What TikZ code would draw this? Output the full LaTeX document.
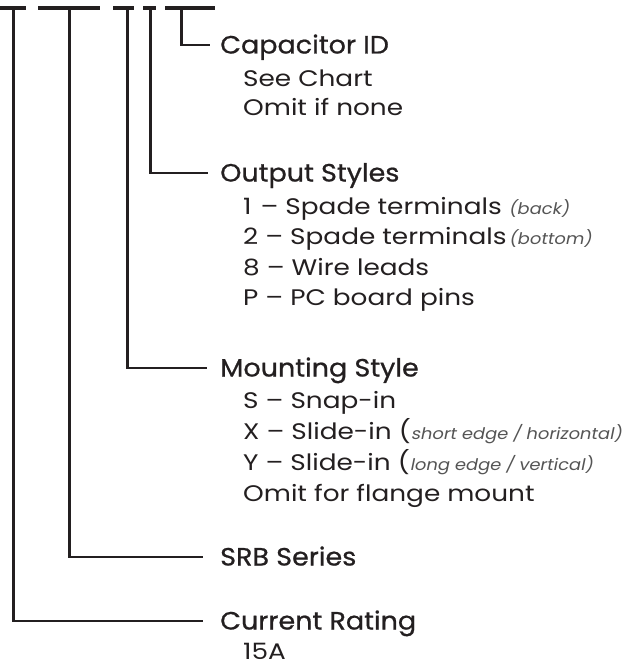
\documentclass[tikz,border=0pt]{standalone}
\usepackage{fontspec}
\setmainfont{Poppins}[FakeStretch=1.17]
\newfontfamily\headfont{Poppins}[FakeBold=0.8,FakeStretch=1.08]
\newfontfamily\itfont{Poppins}[FakeSlant=0.2,FakeStretch=1.12]
\definecolor{ink}{HTML}{231F20}
\definecolor{gr}{HTML}{555555}
\newcommand\smallit[1]{{\itfont\fontsize{16}{18}\selectfont\color{gr}#1}}
\tikzset{
  bar/.style={draw=ink, line width=4pt},
  conn/.style={draw=ink, line width=2.8pt},
  heading/.style={anchor=west, inner sep=0pt, text height=17pt, text depth=0pt,
    font=\headfont\fontsize{25}{29}\selectfont, text=ink},
  item/.style={anchor=base west, inner sep=0pt, font=\fontsize{22.5}{26}\selectfont, text=ink}
}
\begin{document}
\begin{tikzpicture}[x=1pt,y=-1pt]
\useasboundingbox (0,0) rectangle (630,666);
% top bars
\draw[bar] (0,8) -- (26,8);
\draw[bar] (38,8) -- (100,8);
\draw[bar] (113,8) -- (134,8);
\draw[bar] (143,8) -- (156,8);
\draw[bar] (165,8) -- (215,8);
\coordinate (v1) at (13.2,8);
\coordinate (v2) at (69.2,8);
\coordinate (v3) at (127.3,8);
\coordinate (v4) at (150.8,8);
\coordinate (v5) at (181.5,8);
% headings
\node[heading] (cap) at (220,45) {Capacitor ID};
\node[heading] (outp) at (220,173) {Output Styles};
\node[heading] (mount) at (220,368) {Mounting Style};
\node[heading] (srb) at (220,557) {SRB Series};
\node[heading] (cur) at (220,621) {Current Rating};
% items
\node[item] (c1) at (243,87) {See Chart};
\node[item] (c2) at (243,116) {Omit if none};
\node[item] (o1) at (243,214) {1\hspace{0.4em}– Spade terminals\hspace{0.3em}\smallit{(back)}};
\node[item] (o2) at (243,244) {2 – Spade terminals\hspace{0.1em}\smallit{(bottom)}};
\node[item] (o3) at (243,275) {8 – Wire leads};
\node[item] (o4) at (243,305) {P – PC board pins};
\node[item] (m1) at (243,408) {S – Snap-in};
\node[item] (m2) at (243,439) {X – Slide-in (\smallit{short edge / horizontal)}};
\node[item] (m3) at (243,470) {Y – Slide-in (\smallit{long edge / vertical)}};
\node[item] (m4) at (243,501) {Omit for flange mount};
\node[item] (r1) at (243,659) {15A};
% connectors
\draw[conn] (v5) |- ([xshift=-10pt]cap.west);
\draw[conn] (v4) |- ([xshift=-12pt]outp.west);
\draw[conn] (v3) |- ([xshift=-13pt]mount.west);
\draw[conn] (v2) |- ([xshift=-17pt]srb.west);
\draw[conn] (v1) |- ([xshift=-17pt]cur.west);
\end{tikzpicture}
\end{document}
